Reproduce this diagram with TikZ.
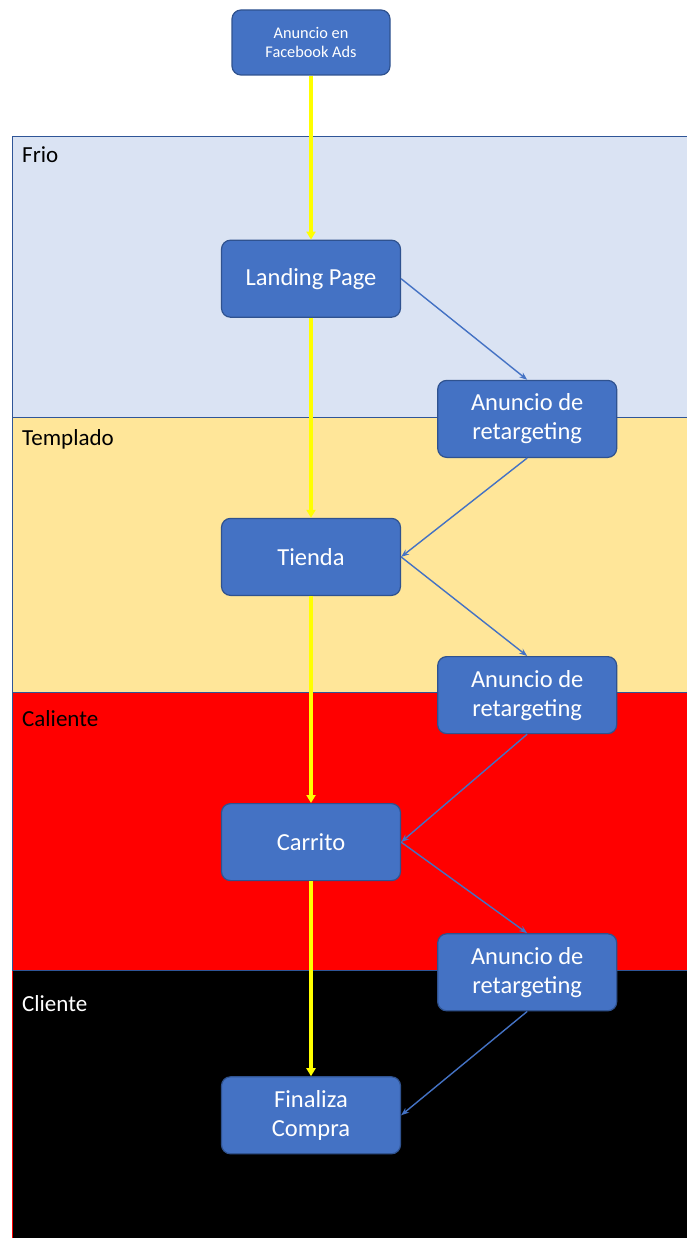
\documentclass[tikz,border=0pt]{standalone}
\usepackage{fontspec}
\setmainfont{Carlito}
\usetikzlibrary{arrows.meta,positioning}
\pgfdeclarelayer{background}
\pgfsetlayers{background,main}
\definecolor{boxcol}{HTML}{4472C4}
\definecolor{boxline}{HTML}{2F528F}
\definecolor{bandline}{HTML}{2F5597}
\definecolor{friocol}{HTML}{DAE3F3}
\definecolor{templcol}{HTML}{FFE699}
\definecolor{calcol}{HTML}{FF0000}
\definecolor{clientcol}{HTML}{000000}
\definecolor{flowcol}{HTML}{FFFF00}
\tikzstyle{flow} = [-{Triangle[length=8pt,width=9pt]},flowcol,line width=3.2pt]
\tikzstyle{retarget} = [-{Stealth[length=8pt,width=6pt]},boxcol,line width=1.4pt]
\tikzset{
  stage box/.style = {
    shape = rectangle,
    draw = boxline,
    fill = boxcol,
    line width = 1.2pt,
    rounded corners = 9pt,
    text = white,
    align = center,
    minimum width = 179pt,
    minimum height = 77pt,
    font = \fontsize{24.5}{29}\selectfont,
    },
  ad box/.style = {
    stage box,
    minimum width = 158pt,
    minimum height = 65pt,
    font = \fontsize{16.3}{19}\selectfont,
    },
  band/.style = {
    fill = #1,
    draw = bandline,
    line width = 1pt,
    },
  band label/.style = {
    anchor = base west,
    inner sep = 0pt,
    font = \fontsize{23}{27}\selectfont,
    },
}

\begin{document}
\begin{tikzpicture}[x=1pt,y=-1pt]
    \useasboundingbox (0,0) rectangle (686,1238);

    % bands
    \begin{pgfonlayer}{background}
        \path[band=clientcol,draw=calcol] (12,970) rectangle (700,1250);
        \path[band=calcol] (12,692) rectangle (700,970);
        \path[band=templcol] (12,417) rectangle (700,692);
        \path[band=friocol] (12,137) rectangle (700,417);
    \end{pgfonlayer}

    \node[band label] (frio) at (22,163) {Frio};
    \node[band label] (templado) at (22,445) {Templado};
    \node[band label] (caliente) at (22,726) {Caliente};
    \node[band label,text=white] (cliente) at (22,1011) {Cliente};

    % funnel
    \node[ad box] (ad) at (311,42.5) {Anuncio en\\Facebook Ads};
    \node[stage box, below=164pt of ad] (landing) {Landing Page};
    \node[stage box, below=200pt of landing] (tienda) {Tienda};
    \node[stage box, below=207pt of tienda] (carrito) {Carrito};
    \node[stage box, below=195pt of carrito] (compra) {Finaliza\\Compra};

    % retargeting
    \node[stage box, below right=62pt and 36pt of landing] (rt1) {Anuncio de\\retargeting};
    \node[stage box, below right=60pt and 36pt of tienda] (rt2) {Anuncio de\\retargeting};
    \node[stage box, below right=52pt and 36pt of carrito] (rt3) {Anuncio de\\retargeting};

    % Paths
    \draw[flow] (ad.south) -- (landing.north);
    \draw[flow] (landing.south) -- (tienda.north);
    \draw[flow] (tienda.south) -- (carrito.north);
    \draw[flow] (carrito.south) -- (compra.north);

    \draw[retarget] (landing.east) -- (rt1.north);
    \draw[retarget] (rt1.south) -- (tienda.east);
    \draw[retarget] (tienda.east) -- (rt2.north);
    \draw[retarget] (rt2.south) -- (carrito.east);
    \draw[retarget] (carrito.east) -- (rt3.north);
    \draw[retarget] (rt3.south) -- (compra.east);
\end{tikzpicture}
\end{document}
